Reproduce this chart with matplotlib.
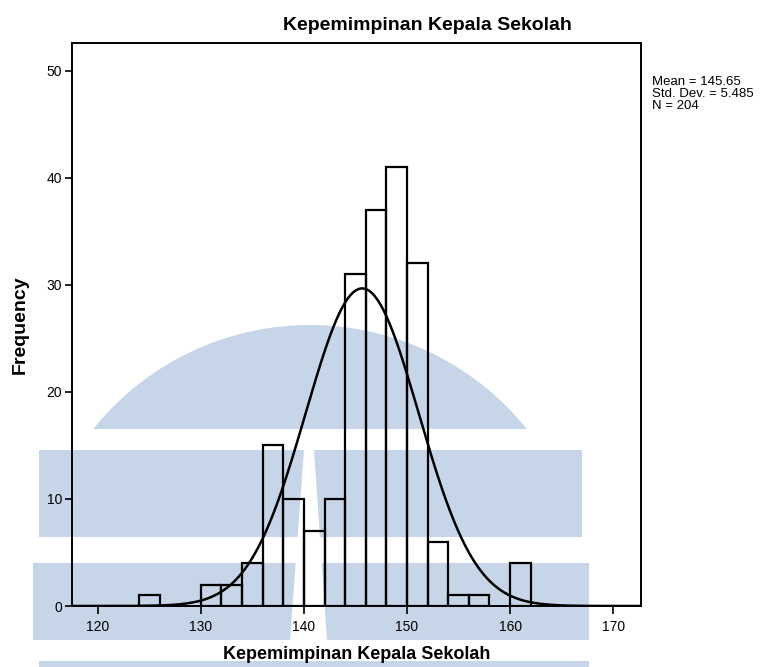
import matplotlib
matplotlib.use('Agg')
import matplotlib.pyplot as plt
from matplotlib.patches import Circle, Rectangle, Polygon
import numpy as np

# histogram data (bin width 2)
bin_edges = [124, 126, 128, 130, 132, 134, 136, 138, 140, 142,
             144, 146, 148, 150, 152, 154, 156, 158, 160]
counts = [1, 0, 0, 2, 2, 4, 15, 10, 7, 10,
          31, 37, 41, 32, 6, 1, 1, 0, 4]
bin_width = 2
mean = 145.65
std_dev = 5.485
n_total = 204

x_ticks = [120, 130, 140, 150, 160, 170]
y_ticks = [0, 10, 20, 30, 40, 50]

title = "Kepemimpinan Kepala Sekolah"
x_label = "Kepemimpinan Kepala Sekolah"
y_label = "Frequency"
stats_lines = ["Mean = 145.65", "Std. Dev. = 5.485", "N = 204"]

plt.rcParams['font.family'] = ['Liberation Sans', 'DejaVu Sans']

W, H = 770, 667
fig = plt.figure(figsize=(W / 100, H / 100), dpi=100)

# faint watermark behind the chart (pixel coordinates)
wm = fig.add_axes([0, 0, 1, 1], zorder=0)
wm.set_xlim(0, W)
wm.set_ylim(H, 0)
wm.axis('off')
blue = '#c6d5e8'
dome = Circle((310, 603), 278, facecolor=blue, edgecolor='none')
wm.add_patch(dome)
dome.set_clip_path(Rectangle((0, 0), W, 429, transform=wm.transData))
wm.add_patch(Rectangle((39, 450), 543, 87, facecolor=blue, edgecolor='none'))
wm.add_patch(Rectangle((33, 563), 556, 77, facecolor=blue, edgecolor='none'))
wm.add_patch(Rectangle((39, 661), 550, 10, facecolor=blue, edgecolor='none'))
wm.add_patch(Polygon([(304, 450), (314, 450), (327, 640), (290, 640)],
                     closed=True, facecolor='white', edgecolor='none'))

# main plot
ax = fig.add_axes([72 / W, 1 - 606 / H, (641 - 72) / W, (606 - 43) / H], zorder=1)
ax.patch.set_alpha(0)

for left, c in zip(bin_edges, counts):
    if c > 0:
        ax.bar(left, c, width=bin_width, align='edge', fill=False,
               edgecolor='black', linewidth=1.6)

xs = np.linspace(117.5, 172.7, 600)
curve = n_total * bin_width * np.exp(-0.5 * ((xs - mean) / std_dev) ** 2) / (std_dev * np.sqrt(2 * np.pi))
ax.plot(xs, curve, color='black', linewidth=1.8)

ax.set_xlim(117.5, 172.7)
ax.set_ylim(0, 52.6)
ax.set_xticks(x_ticks)
ax.set_yticks(y_ticks)
ax.tick_params(direction='out', length=5, width=1.2, labelsize=10, pad=2)
ax.tick_params(axis='x', length=6, pad=4)
for s in ax.spines.values():
    s.set_linewidth(1.4)
    s.set_color('black')

ax.set_xlabel(x_label, fontsize=13, fontweight='bold', labelpad=9)
fig.text(20 / W, 1 - 325 / H, y_label, rotation=90, fontsize=14,
         fontweight='bold', ha='center', va='center')
fig.text(427 / W, 1 - 26 / H, title, fontsize=14, fontweight='bold',
         ha='center', va='center')

for i, line in enumerate(stats_lines):
    fig.text(652 / W, 1 - (82 + i * 12) / H, line, fontsize=9.5,
             ha='left', va='center')

fig.savefig('out.png', dpi=100)
